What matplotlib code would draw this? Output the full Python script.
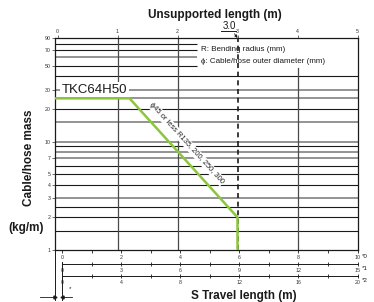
import numpy as np
import matplotlib
matplotlib.use("Agg")
import matplotlib.pyplot as plt
from matplotlib.lines import Line2D

plt.rcParams['font.family'] = ['Liberation Sans', 'DejaVu Sans']

# ---- data ----
unsupported_ticks = [0, 1, 2, 3, 4, 5]
mass_ticks = [1, 2, 3, 4, 5, 7, 10, 20, 30, 50, 70, 90]
black_lines = [80, 70, 50, 40, 20, 9, 6, 5, 4, 2.5, 2, 1.5]
grey_lines = [60, 30, 25, 15, 10, 8, 7, 3]
legend_covered = [80, 70, 60, 50]
vlines_x = [1, 2, 4]
vlines_top = [90, 90, 48]
critical_length = 3.0
green_x = [-0.05, 1.2, 3.0, 3.0]
green_y = [25, 25, 2, 1]
scale0_ticks = [0, 2, 4, 6, 8, 10]
scale1_ticks = [0, 3, 6, 9, 12, 15]
scale2_ticks = [0, 4, 8, 12, 16, 20]

W, H = 374, 302
def fx(px): return px / W
def fy(py): return 1 - py / H

fig = plt.figure(figsize=(W / 100, H / 100), dpi=100)
ax = fig.add_axes([fx(54.5), fy(250), (357.5 - 54.5) / W, (250 - 38) / H])
ax.set_yscale('log')
ax.set_xlim(-0.05, 5)
ax.set_ylim(1, 90)

BLACK = '#1a1a1a'
GREY = '#8a8a8a'
GREEN = '#8cc63f'
legend_end = 2.33

for v in black_lines:
    xe = legend_end if v in legend_covered else 5
    ax.plot([-0.05, xe], [v, v], color=BLACK, lw=0.8, zorder=2, solid_capstyle='butt')
for v in grey_lines:
    xe = legend_end if v in legend_covered else 5
    ax.plot([-0.05, xe], [v, v], color=GREY, lw=1.3, zorder=2, solid_capstyle='butt')
for xv, top in zip(vlines_x, vlines_top):
    ax.plot([xv, xv], [1, top], color='#4a4a4a', lw=0.9, zorder=2)
ax.plot([critical_length, critical_length], [1, 90], color=BLACK, lw=1.2,
        ls=(0, (3, 2.2)), zorder=4)
ax.plot(green_x, green_y, color=GREEN, lw=1.8, zorder=5, solid_capstyle='butt')

for s in ax.spines.values():
    s.set_color(BLACK)
    s.set_linewidth(0.9)

ax.set_yticks(mass_ticks)
ax.set_yticklabels([str(t) for t in mass_ticks])
ax.yaxis.set_minor_locator(matplotlib.ticker.NullLocator())
ax.tick_params(axis='y', which='major', direction='out', length=2, width=0.5,
               labelsize=3.8, pad=1, colors='#333333')
ax.set_xticks(unsupported_ticks)
ax.set_xticklabels([str(t) for t in unsupported_ticks])
ax.xaxis.set_ticks_position('top')
ax.tick_params(axis='x', which='major', direction='out', length=2, width=0.5,
               labelsize=3.8, pad=0.8, colors='#333333')

# labels inside
ax.text(0.07, 30, 'TKC64H50', fontsize=9.5, ha='left', va='center', color=BLACK,
        zorder=6, bbox=dict(facecolor='white', edgecolor='none', pad=1.0))
ax.text(2.39, 70, 'R: Bending radius (mm)', fontsize=5.8, ha='left', va='center',
        color=BLACK, zorder=6)
ax.text(2.39, 55, '\u03d5: Cable/hose outer diameter (mm)', fontsize=5.8, ha='left',
        va='center', color=BLACK, zorder=6)

fig.canvas.draw()
p1 = ax.transData.transform((green_x[1], green_y[1]))
p2 = ax.transData.transform((green_x[2], green_y[2]))
ang = np.degrees(np.arctan2(p2[1] - p1[1], p2[0] - p1[0]))
ax.text(2.15, 9.7, '\u03d545 or less R135, 200, 250, 300', fontsize=5.4,
        rotation=ang, rotation_mode='anchor', ha='center', va='center',
        color='#222222', zorder=6,
        bbox=dict(facecolor='white', edgecolor='none', pad=0.8))

# titles
fig.text(fx(215), fy(15), 'Unsupported length (m)', fontsize=8.5, fontweight='bold',
         ha='center', va='center', color=BLACK)
fig.text(fx(29), fy(158), 'Cable/hose mass', fontsize=8.5, fontweight='bold',
         ha='center', va='center', rotation=90, color=BLACK)
fig.text(fx(26), fy(228), '(kg/m)', fontsize=8.5, fontweight='bold',
         ha='center', va='center', color=BLACK)
fig.text(fx(244), fy(296), 'S Travel length (m)', fontsize=8.5, fontweight='bold',
         ha='center', va='center', color=BLACK)

# 3.0 marker
ax.annotate('3.0', xy=(critical_length, 90), xycoords='data',
            xytext=(fx(229), fy(26)), textcoords='figure fraction',
            fontsize=7, ha='center', va='center', color=BLACK,
            arrowprops=dict(arrowstyle='-|>', color=BLACK, lw=0.6,
                            mutation_scale=4, shrinkA=4, shrinkB=0))
fig.add_artist(Line2D([fx(221), fx(236)], [fy(31), fy(31)], color=BLACK, lw=0.7))

# bottom travel-length scales
def make_scale(py, maxv, major, minor_step, spine, direction, length):
    a = fig.add_axes([fx(62), fy(py), (357.5 - 62) / W, 0.0001])
    a.set_xlim(0, maxv)
    a.set_ylim(0, 1)
    a.patch.set_visible(False)
    for k in ['left', 'right', 'top']:
        a.spines[k].set_visible(False)
    a.spines['bottom'].set_visible(spine)
    a.spines['bottom'].set_color(BLACK)
    a.spines['bottom'].set_linewidth(0.7)
    a.set_yticks([])
    a.set_xticks(major)
    a.set_xticklabels([str(t) for t in major])
    a.set_xticks(np.arange(0, maxv + 0.01, minor_step), minor=True)
    a.tick_params(axis='x', which='both', direction=direction, length=length,
                  width=0.6, labelsize=3.8, pad=1.0, colors=BLACK)
    a.tick_params(axis='x', which='major', labelcolor='#333333')
    return a

make_scale(250, 10, scale0_ticks, 1, False, 'out', 2.5)
make_scale(264, 15, scale1_ticks, 1.5, True, 'inout', 3.5)
make_scale(276, 20, scale2_ticks, 2, True, 'inout', 3.5)

for lab, py in zip(['*0', '*1', '*2'], [256, 268, 281]):
    fig.text(fx(362), fy(py), lab, fontsize=4.5, ha='left', va='center', color=BLACK)

# offset dimension marks
fig.add_artist(Line2D([fx(54.5), fx(54.5)], [fy(250), fy(300)], color=BLACK, lw=0.7))
fig.add_artist(Line2D([fx(62), fx(62)], [fy(262), fy(300)], color=BLACK, lw=0.7))
fig.add_artist(Line2D([fx(40), fx(54.5)], [fy(297), fy(297)], color=BLACK, lw=0.6))
fig.add_artist(Line2D([fx(62), fx(72)], [fy(297), fy(297)], color=BLACK, lw=0.6))
fig.add_artist(Line2D([fx(54.5)], [fy(297)], marker='>', ms=2.2, color=BLACK, lw=0))
fig.add_artist(Line2D([fx(62)], [fy(297)], marker='<', ms=2.2, color=BLACK, lw=0))
fig.text(fx(70), fy(289), '*', fontsize=4.5, ha='center', va='center', color=BLACK)

fig.savefig('out.png', dpi=100)
